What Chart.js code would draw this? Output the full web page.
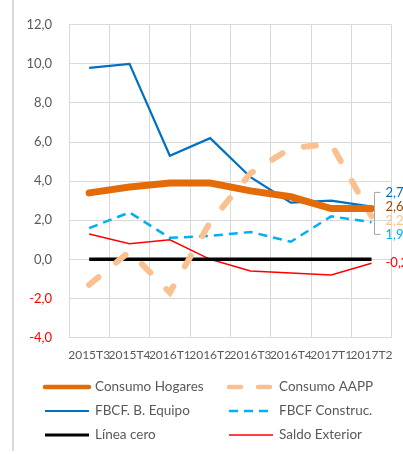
<!DOCTYPE html>
<html>
<head>
<meta charset="utf-8">
<script src="https://cdn.jsdelivr.net/npm/chart.js@4"></script>
<style>
  html, body { margin: 0; padding: 0; background: #fff; }
  #wrap { width: 403px; height: 454px; position: relative; }
</style>
</head>
<body>
<div id="wrap"><canvas id="chart" width="403" height="454"></canvas></div>
<script>
// periods
const quarters = ["2015T3", "2015T4", "2016T1", "2016T2", "2016T3", "2016T4", "2017T1", "2017T2"];

// series
const consumoHogares = [3.4, 3.7, 3.9, 3.9, 3.5, 3.2, 2.6, 2.6];
const consumoAAPP = [-1.3, 0.4, -1.7, 1.9, 4.4, 5.7, 5.9, 2.2];
const fbcfEquipo = [9.8, 10.0, 5.3, 6.2, 4.2, 2.9, 3.0, 2.7];
const fbcfConstruc = [1.6, 2.4, 1.1, 1.2, 1.4, 0.9, 2.2, 1.9];
const lineaCero = [0, 0, 0, 0, 0, 0, 0, 0];
const saldoExterior = [1.3, 0.8, 1.0, 0.0, -0.6, -0.7, -0.8, -0.2];

const FONT = "Lato, 'Liberation Sans', sans-serif";
const GREY = "#595959";

function fmt(v) {
  return v.toFixed(1).replace(".", ",");
}

// Excel-like 2 column legend under the plot
const gridLegend = {
  id: "gridLegend",
  afterDraw(chart) {
    const ctx = chart.ctx;
    const cols = [45, 229];
    const rows = [387, 411, 435];
    ctx.save();
    // chart frame line on the left
    ctx.strokeStyle = "#d9d9d9";
    ctx.lineWidth = 2;
    ctx.beginPath();
    ctx.moveTo(13, 0);
    ctx.lineTo(13, 451);
    ctx.stroke();

    chart.data.datasets.forEach((ds, i) => {
      const x = cols[i % 2];
      const y = rows[Math.floor(i / 2)];
      const lw = ds.legendWidth || ds.borderWidth;
      ctx.strokeStyle = ds.borderColor;
      ctx.lineWidth = lw;
      ctx.lineCap = ds.borderCapStyle || "round";
      ctx.setLineDash(ds.legendDash || []);
      ctx.beginPath();
      ctx.moveTo(x, y);
      ctx.lineTo(x + 44, y);
      ctx.stroke();
      ctx.setLineDash([]);
      ctx.fillStyle = GREY;
      ctx.font = "13.5px " + FONT;
      ctx.textBaseline = "middle";
      ctx.textAlign = "left";
      ctx.fillText(ds.label, x + 50, y);
    });
    ctx.restore();
  }
};

// value labels at the last point with a bracket leader
const endLabels = {
  id: "endLabels",
  afterDatasetsDraw(chart) {
    const ctx = chart.ctx;
    const items = [];
    chart.data.datasets.forEach((ds, i) => {
      if (!ds.labelColor) return;
      const pts = chart.getDatasetMeta(i).data;
      const p = pts[pts.length - 1];
      items.push({ y: p.y, x: p.x, text: fmt(ds.data[ds.data.length - 1]), color: ds.labelColor, z: ds.labelZ || 0 });
    });
    items.sort((a, b) => a.y - b.y);
    // split into clusters and spread them
    const gap = 12;
    const clusters = [];
    items.forEach(it => {
      const last = clusters[clusters.length - 1];
      if (last && it.y - last[last.length - 1].y < gap * 1.5) last.push(it);
      else clusters.push([it]);
    });
    ctx.save();
    ctx.font = "13px " + FONT;
    ctx.textBaseline = "middle";
    ctx.textAlign = "left";
    clusters.forEach(cl => {
      const mid = cl.reduce((s, it) => s + it.y, 0) / cl.length;
      const start = mid - gap * (cl.length - 1) / 2 - (cl.length > 1 ? 3 : 0);
      cl.forEach((it, k) => { it.ly = cl.length > 1 ? start + k * (gap + 2) : it.y; });
      if (cl.length > 1) {
        const top = cl[0].ly, bot = cl[cl.length - 1].ly;
        const bx = cl[0].x + 3;
        ctx.strokeStyle = "#a6a6a6";
        ctx.lineWidth = 1;
        ctx.beginPath();
        ctx.moveTo(bx + 6, top);
        ctx.lineTo(bx, top);
        ctx.lineTo(bx, bot);
        ctx.lineTo(bx + 6, bot);
        ctx.stroke();
      }
      cl.slice().sort((a, b) => a.z - b.z).forEach(it => {
        ctx.fillStyle = it.color;
        ctx.fillText(it.text, it.x + 14, it.ly);
      });
    });
    ctx.restore();
  }
};

const ctx = document.querySelector("#chart").getContext("2d");

const data = {
  labels: quarters,
  datasets: [
    {
      label: "Consumo Hogares",
      data: consumoHogares,
      borderColor: "#E36C09",
      borderWidth: 7,
      legendWidth: 4.5,
      labelColor: "#984807",
      labelZ: 1,
      borderCapStyle: "round",
    },
    {
      label: "Consumo AAPP",
      data: consumoAAPP,
      borderColor: "#FAC090",
      borderWidth: 6,
      borderDash: [12, 23],
      legendWidth: 4.5,
      legendDash: [12, 17],
      labelColor: "#FAC090",
      borderCapStyle: "round",
    },
    {
      label: "FBCF. B. Equipo",
      data: fbcfEquipo,
      borderColor: "#0070C0",
      borderWidth: 2.2,
      labelColor: "#0070C0",
      borderCapStyle: "butt",
    },
    {
      label: "FBCF Construc.",
      data: fbcfConstruc,
      borderColor: "#00B0F0",
      borderWidth: 2.5,
      borderDash: [9, 6],
      legendDash: [9, 6],
      labelColor: "#00B0F0",
      borderCapStyle: "butt",
    },
    {
      label: "Línea cero",
      data: lineaCero,
      borderColor: "#000000",
      borderWidth: 3.5,
      legendWidth: 3,
      borderCapStyle: "butt",
    },
    {
      label: "Saldo Exterior",
      data: saldoExterior,
      borderColor: "#FF0000",
      borderWidth: 1.5,
      labelColor: "#FF0000",
      borderCapStyle: "butt",
    },
  ],
};

const config = {
  type: "line",
  data: data,
  options: {
    responsive: false,
    animation: false,
    layout: { padding: { left: 0, right: 8.5, top: 24, bottom: 90 } },
    elements: {
      point: { radius: 0 },
      line: { tension: 0, fill: false },
    },
    plugins: {
      legend: { display: false },
      tooltip: { enabled: false },
    },
    scales: {
      x: {
        offset: true,
        grid: { offset: true, color: "#d9d9d9", drawTicks: false },
        border: { color: "#d9d9d9" },
        ticks: {
          autoSkip: false,
          maxRotation: 0,
          padding: 10,
          color: GREY,
          font: { family: FONT, size: 12 },
        },
        afterFit(scale) { scale.height = 26.5; },
      },
      y: {
        min: -4,
        max: 12,
        grid: { color: "#d9d9d9", drawTicks: false },
        border: { color: "#d9d9d9" },
        ticks: {
          stepSize: 2,
          padding: 17,
          font: { family: FONT, size: 13 },
          color: (c) => (c.tick && c.tick.value < 0 ? "#FF0000" : GREY),
          callback: function (value) {
            return fmt(value);
          },
        },
        afterFit(scale) { scale.width = 69; },
      },
    },
  },
  plugins: [endLabels, gridLegend],
};

const myChart = new Chart(ctx, config);
</script>
</body>
</html>
